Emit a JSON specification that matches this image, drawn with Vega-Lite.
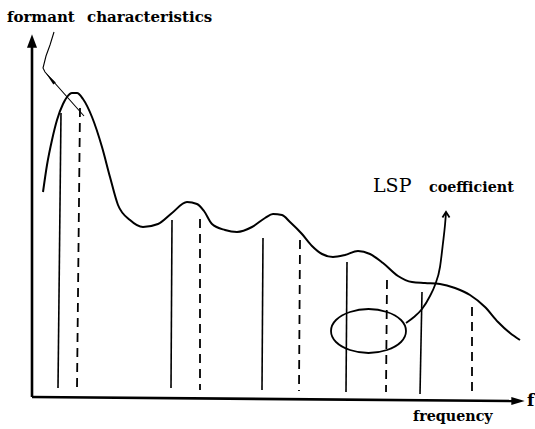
{
  "$schema": "https://vega.github.io/schema/vega-lite/v6.json",
  "width": 535,
  "height": 429,
  "autosize": {"type": "fit", "contains": "padding"},
  "padding": 0,
  "background": "white",
  "config": {"view": {"stroke": null}},
  "layer": [
    {
      "data": {"values": [
        {"axis": "y", "i": 0, "px": 32, "py": 397},
        {"axis": "y", "i": 1, "px": 32, "py": 44},
        {"axis": "x", "i": 0, "px": 32, "py": 397},
        {"axis": "x", "i": 1, "px": 514, "py": 401}
      ]},
      "mark": {"type": "line", "color": "black", "strokeWidth": 2.6},
      "encoding": {
        "x": {"field": "px", "type": "quantitative", "scale": {"domain": [0, 535], "nice": false, "zero": false}, "axis": null},
        "y": {"field": "py", "type": "quantitative", "scale": {"domain": [429, 0], "nice": false, "zero": false}, "axis": null},
        "detail": {"field": "axis"},
        "order": {"field": "i"}
      }
    },
    {
      "data": {"values": [
        {"px": 32, "py": 41, "dir": "up"},
        {"px": 518, "py": 401, "dir": "right"}
      ]},
      "mark": {"type": "point", "filled": true, "color": "black", "opacity": 1},
      "encoding": {
        "x": {"field": "px", "type": "quantitative", "scale": {"domain": [0, 535], "nice": false, "zero": false}, "axis": null},
        "y": {"field": "py", "type": "quantitative", "scale": {"domain": [429, 0], "nice": false, "zero": false}, "axis": null},
        "shape": {"field": "dir", "type": "nominal", "scale": {"domain": ["up", "right"], "range": ["M0,-1L0.75,1L-0.75,1Z", "M1,0L-1,0.6L-1,-0.6Z"]}, "legend": null},
        "size": {"value": 180}
      }
    },
    {
      "data": {"values": [
        {"px": 43, "py": 192}, {"px": 47, "py": 165}, {"px": 52, "py": 140}, {"px": 57, "py": 120},
        {"px": 63, "py": 104}, {"px": 67, "py": 97}, {"px": 72, "py": 93}, {"px": 77, "py": 93},
        {"px": 83, "py": 99}, {"px": 92, "py": 117}, {"px": 102, "py": 147}, {"px": 110, "py": 177},
        {"px": 118, "py": 205}, {"px": 130, "py": 220}, {"px": 143, "py": 227}, {"px": 158, "py": 224},
        {"px": 172, "py": 213}, {"px": 187, "py": 202}, {"px": 197, "py": 204}, {"px": 204, "py": 211},
        {"px": 212, "py": 224}, {"px": 225, "py": 230}, {"px": 237, "py": 232}, {"px": 252, "py": 227},
        {"px": 265, "py": 218}, {"px": 273, "py": 214}, {"px": 282, "py": 215}, {"px": 290, "py": 222},
        {"px": 302, "py": 234}, {"px": 312, "py": 246}, {"px": 322, "py": 254}, {"px": 333, "py": 257},
        {"px": 345, "py": 255}, {"px": 358, "py": 251}, {"px": 370, "py": 254}, {"px": 383, "py": 263},
        {"px": 398, "py": 276}, {"px": 412, "py": 282}, {"px": 425, "py": 283}, {"px": 440, "py": 284},
        {"px": 455, "py": 288}, {"px": 470, "py": 295}, {"px": 485, "py": 307}, {"px": 498, "py": 322},
        {"px": 510, "py": 333}, {"px": 520, "py": 340}
      ]},
      "mark": {"type": "line", "color": "black", "strokeWidth": 2, "interpolate": "monotone"},
      "encoding": {
        "x": {"field": "px", "type": "quantitative", "scale": {"domain": [0, 535], "nice": false, "zero": false}, "axis": null},
        "y": {"field": "py", "type": "quantitative", "scale": {"domain": [429, 0], "nice": false, "zero": false}, "axis": null}
      }
    },
    {
      "data": {"values": [
        {"xt": 61, "xb": 58, "top": 113, "bottom": 388},
        {"xt": 172, "xb": 171, "top": 220, "bottom": 388},
        {"xt": 263, "xb": 262, "top": 238, "bottom": 390},
        {"xt": 347, "xb": 346, "top": 262, "bottom": 392},
        {"xt": 422, "xb": 420, "top": 292, "bottom": 394}
      ]},
      "mark": {"type": "rule", "color": "black", "strokeWidth": 1.6},
      "encoding": {
        "x": {"field": "xt", "type": "quantitative", "scale": {"domain": [0, 535], "nice": false, "zero": false}, "axis": null},
        "x2": {"field": "xb"},
        "y": {"field": "top", "type": "quantitative", "scale": {"domain": [429, 0], "nice": false, "zero": false}, "axis": null},
        "y2": {"field": "bottom"}
      }
    },
    {
      "data": {"values": [
        {"xt": 80, "xb": 77, "top": 108, "bottom": 388},
        {"xt": 200, "xb": 200, "top": 219, "bottom": 390},
        {"xt": 300, "xb": 299, "top": 240, "bottom": 391},
        {"xt": 387, "xb": 386, "top": 280, "bottom": 392},
        {"xt": 472, "xb": 472, "top": 307, "bottom": 393}
      ]},
      "mark": {"type": "rule", "color": "black", "strokeWidth": 1.8, "strokeDash": [9, 6]},
      "encoding": {
        "x": {"field": "xt", "type": "quantitative", "scale": {"domain": [0, 535], "nice": false, "zero": false}, "axis": null},
        "x2": {"field": "xb"},
        "y": {"field": "top", "type": "quantitative", "scale": {"domain": [429, 0], "nice": false, "zero": false}, "axis": null},
        "y2": {"field": "bottom"}
      }
    },
    {
      "data": {"values": [
        {"i": 0, "px": 406, "py": 331}, {"i": 1, "px": 401, "py": 320}, {"i": 2, "px": 387, "py": 312},
        {"i": 3, "px": 368.5, "py": 309}, {"i": 4, "px": 350, "py": 312}, {"i": 5, "px": 336, "py": 320},
        {"i": 6, "px": 331, "py": 331}, {"i": 7, "px": 336, "py": 342}, {"i": 8, "px": 350, "py": 350},
        {"i": 9, "px": 368.5, "py": 353}, {"i": 10, "px": 387, "py": 350}, {"i": 11, "px": 401, "py": 342}
      ]},
      "mark": {"type": "line", "color": "black", "strokeWidth": 1.8, "interpolate": "cardinal-closed"},
      "encoding": {
        "x": {"field": "px", "type": "quantitative", "scale": {"domain": [0, 535], "nice": false, "zero": false}, "axis": null},
        "y": {"field": "py", "type": "quantitative", "scale": {"domain": [429, 0], "nice": false, "zero": false}, "axis": null},
        "order": {"field": "i"}
      }
    },
    {
      "data": {"values": [
        {"i": 0, "px": 406, "py": 323}, {"i": 1, "px": 414, "py": 317}, {"i": 2, "px": 422, "py": 309},
        {"i": 3, "px": 430, "py": 296}, {"i": 4, "px": 435, "py": 285}, {"i": 5, "px": 440, "py": 267},
        {"i": 6, "px": 443, "py": 243}, {"i": 7, "px": 445, "py": 225}, {"i": 8, "px": 446, "py": 213}
      ]},
      "mark": {"type": "line", "color": "black", "strokeWidth": 1.8, "interpolate": "monotone"},
      "encoding": {
        "x": {"field": "px", "type": "quantitative", "scale": {"domain": [0, 535], "nice": false, "zero": false}, "axis": null},
        "y": {"field": "py", "type": "quantitative", "scale": {"domain": [429, 0], "nice": false, "zero": false}, "axis": null},
        "order": {"field": "i"}
      }
    },
    {
      "data": {"values": [{"px": 446, "py": 214}]},
      "mark": {"type": "point", "shape": "M-1,1L0,-0.6L1,1", "filled": false, "color": "black", "strokeWidth": 1.8, "opacity": 1, "size": 50},
      "encoding": {
        "x": {"field": "px", "type": "quantitative", "scale": {"domain": [0, 535], "nice": false, "zero": false}, "axis": null},
        "y": {"field": "py", "type": "quantitative", "scale": {"domain": [429, 0], "nice": false, "zero": false}, "axis": null}
      }
    },
    {
      "data": {"values": [
        {"i": 0, "px": 54, "py": 32}, {"i": 1, "px": 50, "py": 45}, {"i": 2, "px": 46, "py": 56},
        {"i": 3, "px": 43, "py": 68}, {"i": 4, "px": 45, "py": 72}, {"i": 5, "px": 84, "py": 116}
      ]},
      "mark": {"type": "line", "color": "black", "strokeWidth": 1.1},
      "encoding": {
        "x": {"field": "px", "type": "quantitative", "scale": {"domain": [0, 535], "nice": false, "zero": false}, "axis": null},
        "y": {"field": "py", "type": "quantitative", "scale": {"domain": [429, 0], "nice": false, "zero": false}, "axis": null},
        "order": {"field": "i"}
      }
    },
    {
      "data": {"values": [{"px": 50, "py": 78}]},
      "mark": {"type": "point", "shape": "M0,-1L0.22,1L-0.22,1Z", "filled": true, "color": "black", "opacity": 1, "size": 200, "angle": 320},
      "encoding": {
        "x": {"field": "px", "type": "quantitative", "scale": {"domain": [0, 535], "nice": false, "zero": false}, "axis": null},
        "y": {"field": "py", "type": "quantitative", "scale": {"domain": [429, 0], "nice": false, "zero": false}, "axis": null}
      }
    },
    {
      "data": {"values": [
        {"px": 7, "py": 22, "label": "formant"},
        {"px": 87, "py": 22, "label": "characteristics"}
      ]},
      "mark": {"type": "text", "align": "left", "baseline": "alphabetic", "font": "DejaVu Serif", "fontSize": 15, "fontWeight": "bold", "color": "black"},
      "encoding": {
        "x": {"field": "px", "type": "quantitative", "scale": {"domain": [0, 535], "nice": false, "zero": false}, "axis": null},
        "y": {"field": "py", "type": "quantitative", "scale": {"domain": [429, 0], "nice": false, "zero": false}, "axis": null},
        "text": {"field": "label"}
      }
    },
    {
      "data": {"values": [
        {"px": 429, "py": 192, "label": "coefficient"},
        {"px": 413, "py": 421, "label": "frequency"}
      ]},
      "mark": {"type": "text", "align": "left", "baseline": "alphabetic", "font": "DejaVu Serif", "fontSize": 14.3, "fontWeight": "bold", "color": "black"},
      "encoding": {
        "x": {"field": "px", "type": "quantitative", "scale": {"domain": [0, 535], "nice": false, "zero": false}, "axis": null},
        "y": {"field": "py", "type": "quantitative", "scale": {"domain": [429, 0], "nice": false, "zero": false}, "axis": null},
        "text": {"field": "label"}
      }
    },
    {
      "data": {"values": [
        {"px": 373, "py": 192, "label": "LSP"}
      ]},
      "mark": {"type": "text", "align": "left", "baseline": "alphabetic", "font": "DejaVu Serif", "fontSize": 19, "fontWeight": "normal", "color": "black"},
      "encoding": {
        "x": {"field": "px", "type": "quantitative", "scale": {"domain": [0, 535], "nice": false, "zero": false}, "axis": null},
        "y": {"field": "py", "type": "quantitative", "scale": {"domain": [429, 0], "nice": false, "zero": false}, "axis": null},
        "text": {"field": "label"}
      }
    },
    {
      "data": {"values": [
        {"px": 527, "py": 406, "label": "f"}
      ]},
      "mark": {"type": "text", "align": "left", "baseline": "alphabetic", "font": "DejaVu Serif", "fontSize": 17, "fontWeight": "bold", "color": "black"},
      "encoding": {
        "x": {"field": "px", "type": "quantitative", "scale": {"domain": [0, 535], "nice": false, "zero": false}, "axis": null},
        "y": {"field": "py", "type": "quantitative", "scale": {"domain": [429, 0], "nice": false, "zero": false}, "axis": null},
        "text": {"field": "label"}
      }
    }
  ]
}
